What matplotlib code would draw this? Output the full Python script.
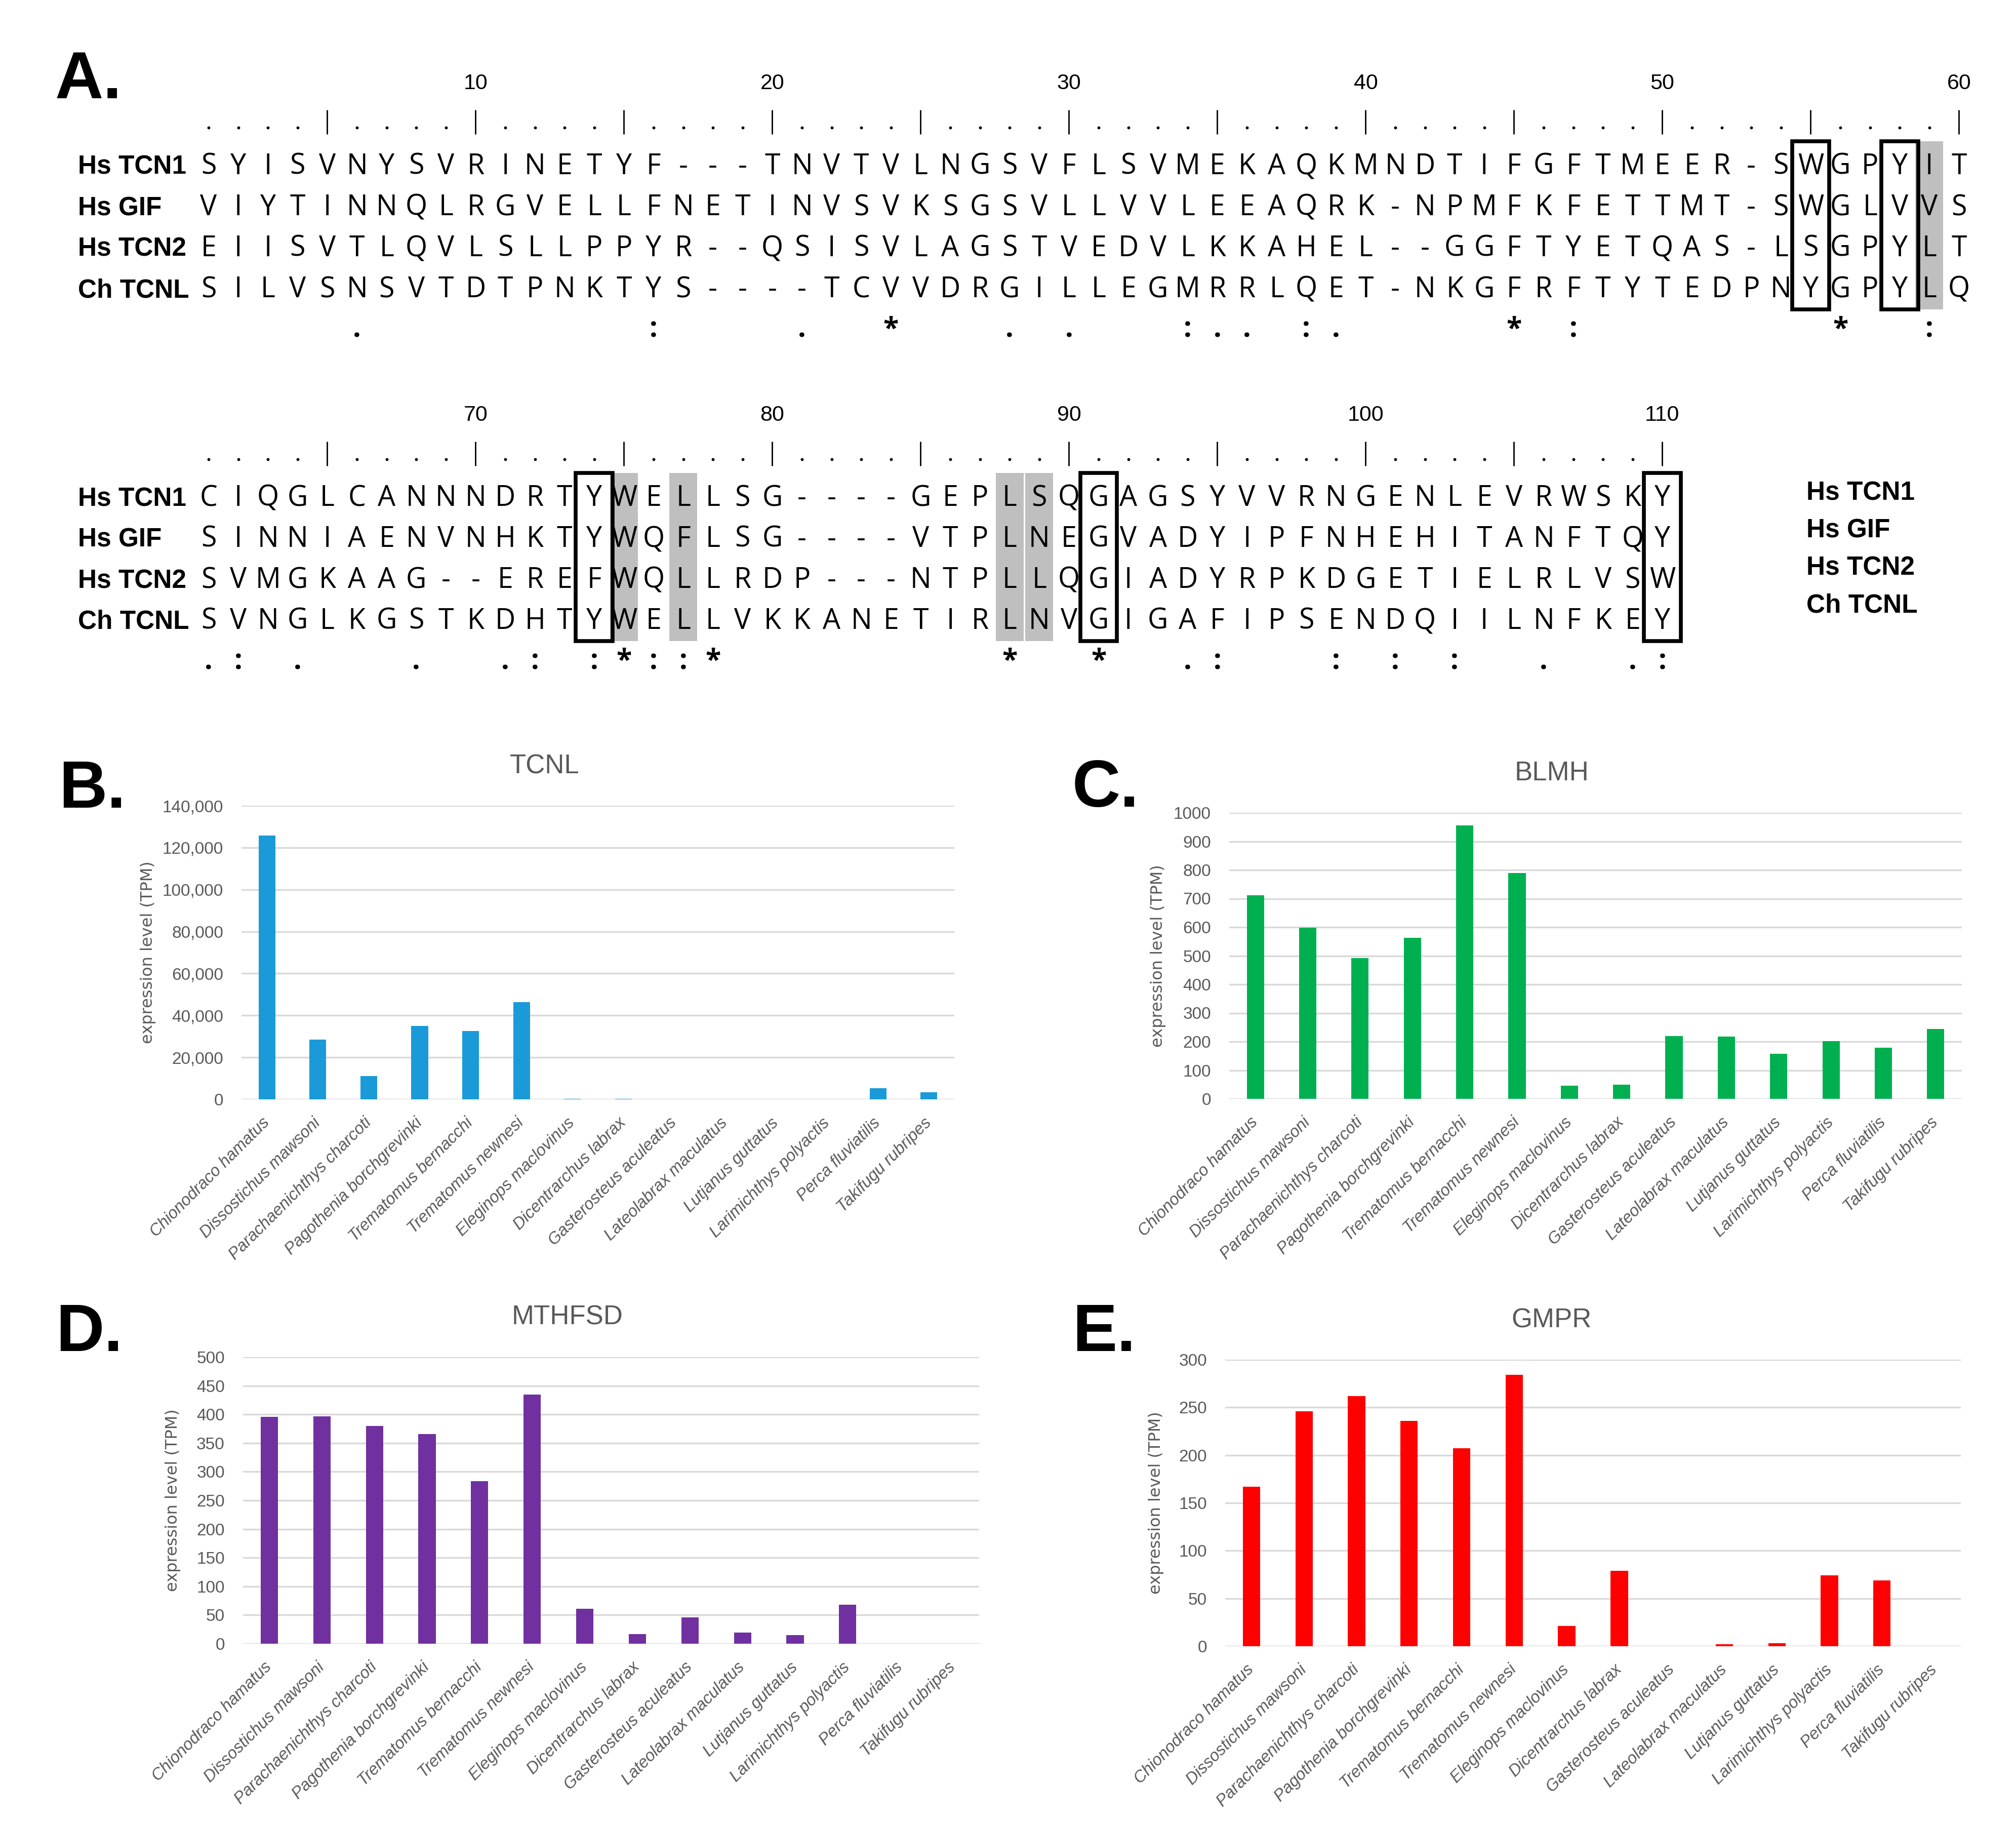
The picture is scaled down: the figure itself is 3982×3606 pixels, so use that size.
import numpy as np
import matplotlib
matplotlib.use('Agg')
import matplotlib.pyplot as plt
from matplotlib.patches import Rectangle
from matplotlib.ticker import FuncFormatter

W, H = 3982, 3606
NARROW = ['Liberation Sans Narrow', 'Liberation Sans', 'DejaVu Sans']
PLAIN = ['Liberation Sans', 'DejaVu Sans']
SEQFONT = ['Open Sans', 'DejaVu Sans']
GREY_TXT = '#595959'
GRID = '#D9D9D9'

# ---------------- A. alignment ----------------
seq_names = ['Hs TCN1', 'Hs GIF', 'Hs TCN2', 'Ch TCNL']

block1 = [
    'SYISVNYSVRINETYF---TNVTVLNGSVFLSVMEKAQKMNDTIFGFTMEER-SWGPYIT',
    'VIYTINNQLRGVELLFNETINVSVKSGSVLLVVLEEAQRK-NPMFKFETTMT-SWGLVVS',
    'EIISVTLQVLSLLPPYR--QSISVLAGSTVEDVLKKAHEL--GGFTYETQAS-LSGPYLT',
    'SILVSNSVTDTPNKTYS----TCVVDRGILLEGMRRLQET-NKGFRFTYTEDPNYGPYLQ',
]
block2 = [
    'CIQGLCANNNDRTYWELLSG----GEPLSQGAGSYVVRNGENLEVRWSKY',
    'SINNIAENVNHKTYWQFLSG----VTPLNEGVADYIPFNHEHITANFTQY',
    'SVMGKAAG--EREFWQLLRDP---NTPLLQGIADYRPKDGETIELRLVSW',
    'SVNGLKGSTKDHTYWELLVKKANETIRLNVGIGAFIPSENDQIILNFKEY',
]
cons1 = {6: '.', 16: ':', 21: '.', 24: '*', 28: '.', 30: '.', 34: ':', 35: '.',
         36: '.', 38: ':', 39: '.', 45: '*', 47: ':', 56: '*', 59: ':'}
cons2 = {61: '.', 62: ':', 64: '.', 68: '.', 71: '.', 72: ':', 74: ':', 75: '*',
         76: ':', 77: ':', 78: '*', 88: '*', 91: '*', 94: '.', 95: ':', 99: ':',
         101: ':', 103: ':', 106: '.', 109: '.', 110: ':'}
boxed1, shaded1 = [55, 58], [59]
boxed2, shaded2 = [74, 91, 110], [75, 77, 88, 89]

for rows, n in ((block1, 60), (block2, 50)):
    for r in rows:
        assert len(r) == n, (r, len(r))

# ---------------- B-E. expression ----------------
species = ['Chionodraco hamatus', 'Dissostichus mawsoni', 'Parachaenichthys charcoti',
           'Pagothenia borchgrevinki', 'Trematomus bernacchi', 'Trematomus newnesi',
           'Eleginops maclovinus', 'Dicentrarchus labrax', 'Gasterosteus aculeatus',
           'Lateolabrax maculatus', 'Lutjanus guttatus', 'Larimichthys polyactis',
           'Perca fluviatilis', 'Takifugu rubripes']
tcnl = [125700, 28400, 11200, 35100, 32500, 46300, 200, 150, 0, 0, 0, 100, 5200, 3400]
blmh = [711, 599, 492, 562, 955, 790, 46, 50, 220, 217, 157, 202, 179, 245]
mthfsd = [396, 397, 380, 366, 284, 435, 61, 17, 46, 19, 15, 68, 0, 0]
gmpr = [167, 246, 262, 236, 207, 284, 21, 79, 0, 2, 3, 74, 69, 0]


fig = plt.figure(figsize=(W / 100, H / 100), dpi=100)
fig.patch.set_facecolor('white')

# alignment axes: x in alignment columns, y in pixels
COL1_PX, COL_W = 412, 58.6
def px2col(p):
    return (p - COL1_PX) / COL_W + 1

ax_a = fig.add_axes([0, 0, 1, 1])
ax_a.set_xlim(px2col(0), px2col(W))
ax_a.set_ylim(H, 0)
ax_a.axis('off')

ROW_DY = 81


def draw_block(rows, start, cons, boxed, shaded, y0):
    n = len(rows[0])
    cols = np.arange(1, n + 1)
    # ruler
    for c in cols[cols % 10 == 0]:
        ax_a.text(c, y0 - 159, str(c + start - 1), ha='center', va='center',
                  fontsize=31, family=PLAIN)
    ax_a.vlines(cols[cols % 5 == 0], y0 - 107, y0 - 59, color='black', lw=2)
    dots = cols[cols % 5 != 0]
    ax_a.plot(dots, np.full(len(dots), y0 - 72), 'o', ms=3.2, color='black')
    # sequences
    for i, (name, s) in enumerate(zip(seq_names, rows)):
        yb = y0 + i * ROW_DY + 20
        ax_a.text(px2col(154), yb, name, ha='left', va='baseline', fontsize=37,
                  fontweight='bold', family=PLAIN)
        for c, ch in zip(cols, s):
            ax_a.text(c, yb, ch, ha='center', va='baseline', fontsize=40,
                      family=SEQFONT, zorder=3)
    # conservation line
    for c, sym in cons.items():
        ax_a.text(c - start + 1, y0 + 342, sym, ha='center', va='baseline',
                  fontsize=40, family=SEQFONT, fontweight='bold')
    top = y0 - 45
    hgt = 3 * ROW_DY + 89
    for c in shaded:
        ax_a.add_patch(Rectangle((c - start + 1 - 0.47, top), 0.94, hgt,
                                 facecolor='#BFBFBF', edgecolor='none', zorder=1))
    for c in boxed:
        ax_a.add_patch(Rectangle((c - start + 1 - 0.62, top), 1.24, hgt,
                                 facecolor='none', edgecolor='black', lw=5.5, zorder=4))


draw_block(block1, 1, cons1, boxed1, shaded1, 324)
draw_block(block2, 61, cons2, boxed2, shaded2, 979)

for i, name in enumerate(seq_names):
    ax_a.text(px2col(3568), 970 + i * 74 + 18, name, ha='left', va='baseline',
              fontsize=37, fontweight='bold', family=PLAIN)

# panel letters
for lab, px, py in (('A.', 109, 194), ('B.', 116, 1595), ('C.', 2118, 1593),
                    ('D.', 110, 2668), ('E.', 2118, 2668)):
    fig.text(px / W, 1 - py / H, lab, ha='left', va='baseline', fontsize=95,
             fontweight='bold', family=NARROW)


def bar_panel(rect_px, values, color, ymax, step, title, title_px, ylab_x, fmt=None):
    l, t, r, b = rect_px
    ax = fig.add_axes([l / W, 1 - b / H, (r - l) / W, (b - t) / H])
    x = np.arange(len(species))
    ax.bar(x, values, width=0.33, color=color, zorder=3)
    ax.set_xlim(-0.5, len(species) - 0.5)
    ax.set_ylim(0, ymax)
    ax.set_yticks(np.arange(0, ymax + step / 2, step))
    if fmt is not None:
        ax.yaxis.set_major_formatter(fmt)
    ax.set_axisbelow(True)
    ax.grid(axis='y', color=GRID, lw=2.4)
    for sp in ax.spines.values():
        sp.set_visible(False)
    ax.tick_params(axis='y', length=0, pad=26, labelsize=24, labelcolor=GREY_TXT)
    for tl in ax.get_yticklabels():
        tl.set_family(NARROW)
    ax.set_xticks(x)
    ax.set_xticklabels(species, rotation=45, ha='right', va='center',
                       rotation_mode='anchor', fontstyle='italic', fontsize=23.5,
                       color=GREY_TXT, family=NARROW)
    ax.tick_params(axis='x', length=0, pad=30)
    ax.set_ylabel('expression level (TPM)', fontsize=23, color=GREY_TXT,
                  family=['DejaVu Sans'], va='center')
    ax.yaxis.set_label_coords(ylab_x, 0.5)
    fig.text(title_px[0] / W, 1 - title_px[1] / H, title, ha='center', va='baseline',
             fontsize=38, color=GREY_TXT, family=NARROW)
    return ax


comma = FuncFormatter(lambda v, p: f'{int(v):,}')
bar_panel((477, 1591, 1885, 2171), tcnl, '#1A9AD9', 140000, 20000, 'TCNL',
          (1076, 1527), -0.131, comma)
bar_panel((2428, 1605, 3875, 2170), blmh, '#00B050', 1000, 100, 'BLMH',
          (3065, 1541), -0.0974)
bar_panel((480, 2680, 1934, 3246), mthfsd, '#7030A0', 500, 50, 'MTHFSD',
          (1121, 2616), -0.095)
bar_panel((2420, 2685, 3873, 3251), gmpr, '#FF0000', 300, 50, 'GMPR',
          (3065, 2621), -0.094)

fig.savefig('out.png', dpi=100)
